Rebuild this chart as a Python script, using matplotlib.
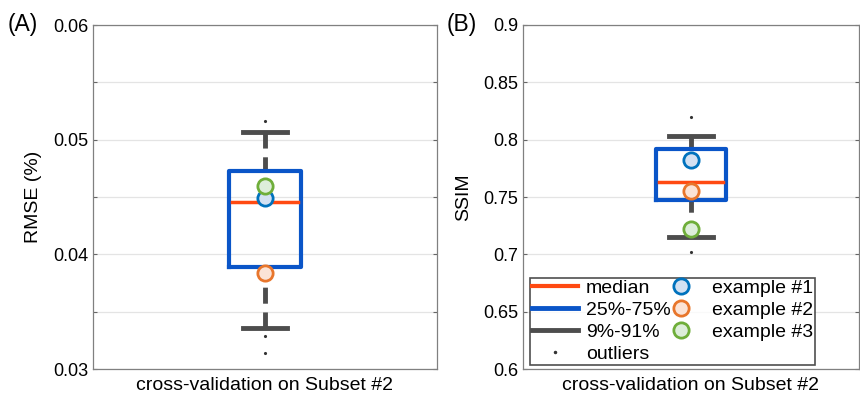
import numpy as np
import matplotlib.pyplot as plt
from matplotlib.lines import Line2D

plt.rcParams['font.family'] = ['Liberation Sans', 'DejaVu Sans']

# values (box stats per panel)
rmse_box = [0.0389, 0.04453, 0.04727]      # q25, median, q75
rmse_whisk = [0.0336, 0.0507]              # 9%, 91%
rmse_out = [0.0516, 0.0329, 0.03143]
rmse_examples = [0.04488, 0.03834, 0.0460]

ssim_box = [0.7474, 0.7634, 0.7919]
ssim_whisk = [0.7151, 0.8035]
ssim_out = [0.8195, 0.7023]
ssim_examples = [0.7826, 0.7552, 0.7224]

xlabel = 'cross-validation on Subset #2'
ex_edge = ['#0072BD', '#E8762C', '#6FAE3A']
ex_face = ['#D3E1F2', '#FBE3D6', '#DDEEDA']
c_med = '#FF4A12'
c_box = '#0A55C8'
c_wh = '#4D4D4D'


def draw_panel(ax, box, whisk, out, examples, ylim, ticks, labels, ylab, tag, tagx):
    q1, med, q3 = box
    bw = 0.105
    cw = 0.065
    # whiskers dashed, drawn from the cap towards the box
    ax.plot([1, 1], [whisk[1], q3], color=c_wh, lw=3.5, ls=(0, (3.3, 1.8)),
            dash_capstyle='butt', zorder=2)
    ax.plot([1, 1], [whisk[0], q1], color=c_wh, lw=3.5, ls=(0, (3.3, 1.8)),
            dash_capstyle='butt', zorder=2)
    ax.plot([1 - cw, 1 + cw], [whisk[1]] * 2, color=c_wh, lw=3.5, zorder=2)
    ax.plot([1 - cw, 1 + cw], [whisk[0]] * 2, color=c_wh, lw=3.5, zorder=2)
    ax.plot([1 - bw, 1 + bw, 1 + bw, 1 - bw, 1 - bw], [q1, q1, q3, q3, q1],
            color=c_box, lw=3.0, zorder=3)
    ax.plot([1 - bw + 0.01, 1 + bw - 0.01], [med, med], color=c_med, lw=2.5, zorder=4)
    ax.plot([1] * len(out), out, ls='none', marker='.', ms=2.5, color='#333333', zorder=3)
    for v, ec, fc in zip(examples, ex_edge, ex_face):
        ax.plot(1, v, marker='o', ms=11, mfc=fc, mec=ec, mew=2, ls='none', zorder=5)
    ax.set_xlim(0.5, 1.5)
    ax.set_ylim(*ylim)
    ax.set_yticks(ticks)
    ax.set_yticklabels(labels, fontsize=13)
    ax.set_xticks([1])
    ax.set_xticklabels([xlabel], fontsize=14)
    ax.tick_params(axis='x', length=0, pad=6)
    ax.tick_params(axis='y', length=3, direction='in', right=True, color='#666666')
    ax.set_ylabel(ylab, fontsize=14)
    ax.grid(axis='y', color='#e4e4e4', lw=0.9)
    ax.set_axisbelow(True)
    for s in ax.spines.values():
        s.set_color('#808080')
        s.set_linewidth(0.9)
    ax.text(tagx, 1.0, tag, transform=ax.transAxes, fontsize=16.5, va='center', ha='left')


fig = plt.figure(figsize=(8.6, 3.98), dpi=100)
axA = fig.add_axes([93 / 860, 1 - 369 / 398, 344 / 860, 344 / 398])
axB = fig.add_axes([523 / 860, 1 - 369 / 398, 336 / 860, 344 / 398])

rt = [0.03, 0.035, 0.04, 0.045, 0.05, 0.055, 0.06]
rl = ['0.03', '', '0.04', '', '0.05', '', '0.06']
draw_panel(axA, rmse_box, rmse_whisk, rmse_out, rmse_examples, (0.03, 0.06), rt, rl,
           'RMSE (%)', '(A)', -0.247)
axA.yaxis.labelpad = 8

st = [0.6, 0.65, 0.7, 0.75, 0.8, 0.85, 0.9]
sl = ['0.6', '0.65', '0.7', '0.75', '0.8', '0.85', '0.9']
draw_panel(axB, ssim_box, ssim_whisk, ssim_out, ssim_examples, (0.6, 0.9), st, sl,
           'SSIM', '(B)', -0.226)
axB.yaxis.labelpad = 8

handles = [
    Line2D([], [], color=c_med, lw=3),
    Line2D([], [], color=c_box, lw=3.5),
    Line2D([], [], color=c_wh, lw=3.5),
    Line2D([], [], ls='none', marker='.', ms=3, color='#333333'),
]
labs = ['median', '25%-75%', '9%-91%', 'outliers']
for ec, fc in zip(ex_edge, ex_face):
    handles.append(Line2D([], [], ls='none', marker='o', ms=11, mfc=fc, mec=ec, mew=2))
handles.append(Line2D([], [], ls='none'))
labs += ['example #1', 'example #2', 'example #3', '']
leg = axB.legend(handles, labs, ncol=2, loc='lower left', bbox_to_anchor=(0.02, 0.012),
                 fontsize=14, frameon=True, fancybox=False, edgecolor='#222222',
                 handlelength=2.4, handletextpad=0.4, columnspacing=-0.7,
                 labelspacing=0.22, borderpad=0.1, borderaxespad=0.0)
leg.get_frame().set_linewidth(1.2)

fig.savefig('out.png', dpi=100)
